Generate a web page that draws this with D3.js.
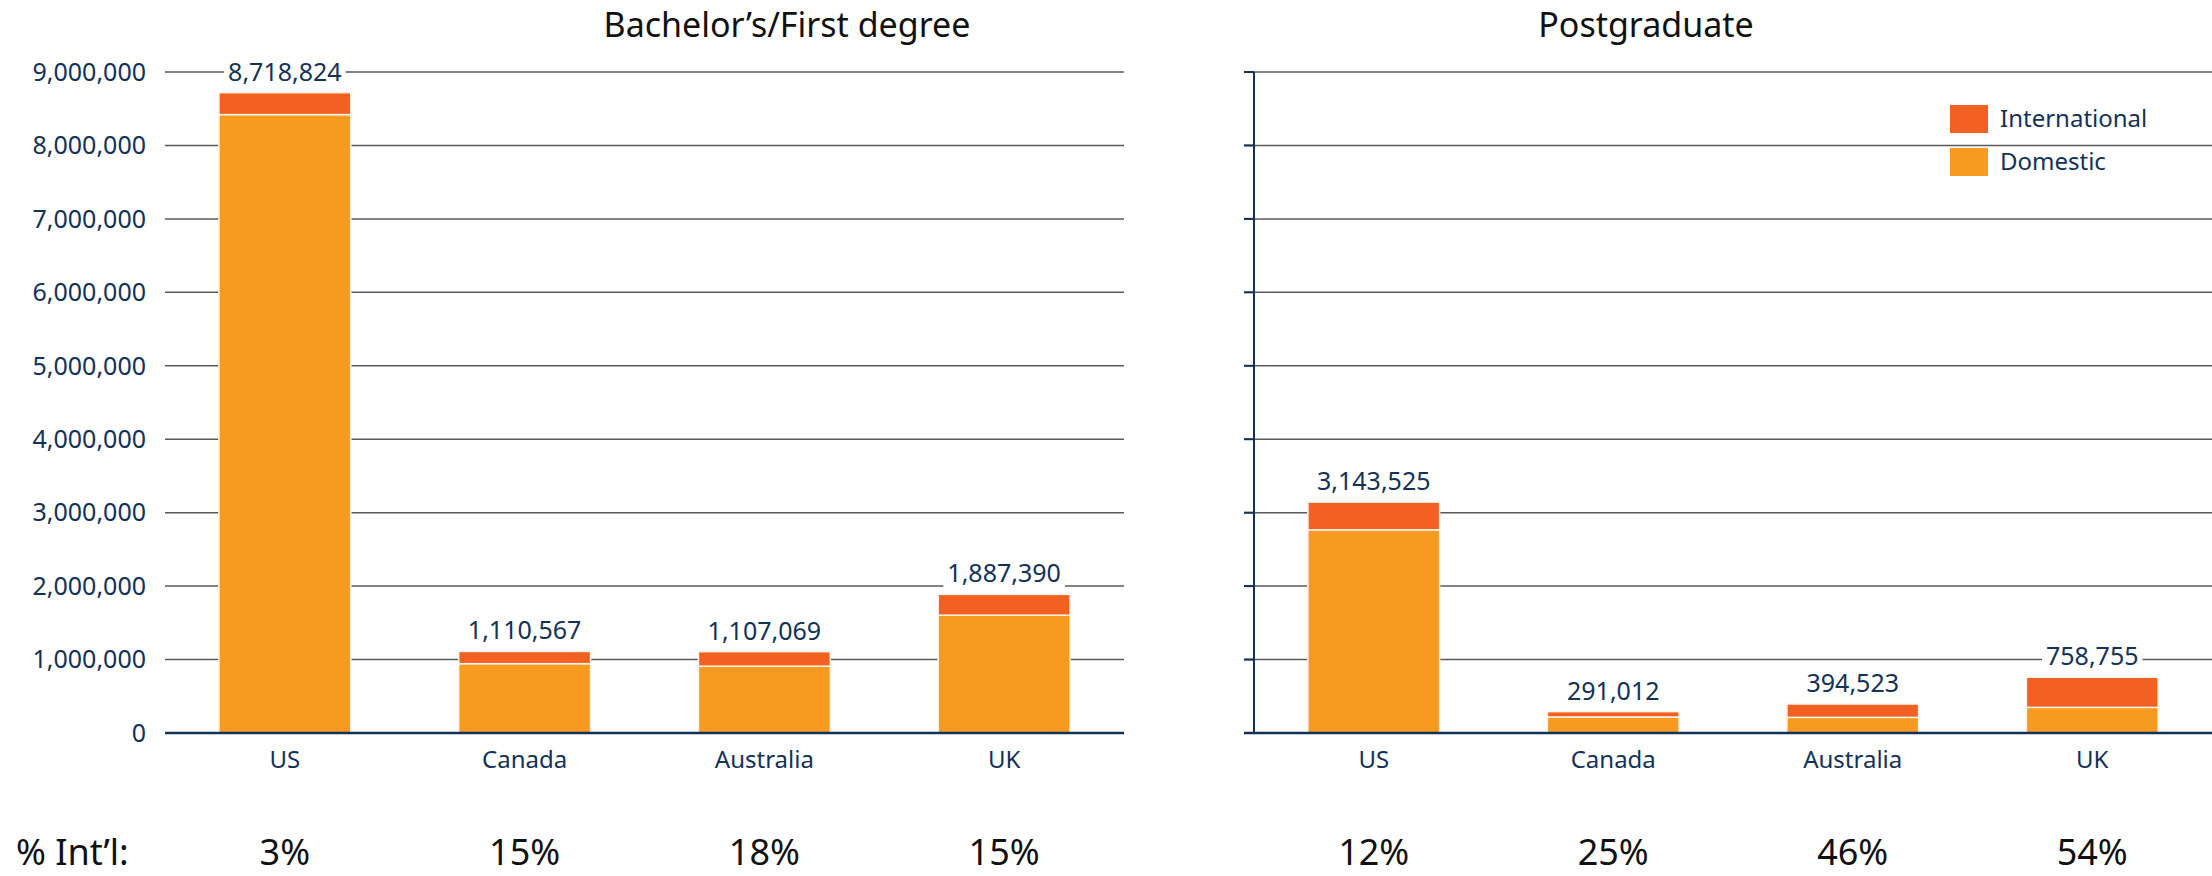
<!DOCTYPE html>
<html>
<head>
<meta charset="utf-8">
<script src="https://cdn.jsdelivr.net/npm/d3@7"></script>
<style>
body{margin:0;background:#fff;}
text{font-family:"Noto Sans",sans-serif;}
</style>
</head>
<body>
<svg id="chart" width="2212" height="876"></svg>
<script>
// data
var countries=['US','Canada','Australia','UK'];
var bachTotal=[8718824,1110567,1107069,1887390];
var bachDomestic=[8420000,944000,910000,1604000];
var pgTotal=[3143525,291012,394523,758755];
var pgDomestic=[2766000,218000,213000,349000];
var bachPct=['3%','15%','18%','15%'];
var pgPct=['12%','25%','46%','54%'];
var yTicks=[0,1000000,2000000,3000000,4000000,5000000,6000000,7000000,8000000,9000000];
var legendItems=['International','Domestic'];

var navy='#12325a';
var cInt='#f26122';
var cDom='#f89a1f';
var grid='#5a5a5a';

var svg=d3.select('#chart');
var y=d3.scaleLinear().domain([0,9000000]).range([733,72]);
var fmt=d3.format(',');

function panel(x0,x1,title,titleX,totals,domestic,pcts,showLabels){
  var g=svg.append('g');
  var x=d3.scaleBand().domain(countries).range([x0,x1]).paddingInner(0.45).paddingOuter(0.225);

  // gridlines
  g.selectAll('.grid').data(yTicks.slice(1)).enter().append('line')
    .attr('x1',showLabels?x0:x0-10).attr('x2',x1)
    .attr('y1',d=>y(d)).attr('y2',d=>y(d))
    .attr('stroke',grid).attr('stroke-width',1.5);

  if(showLabels){
    g.selectAll('.yl').data(yTicks).enter().append('text')
      .attr('x',x0-19).attr('y',d=>y(d)).attr('dy','0.35em')
      .attr('text-anchor','end').attr('fill',navy).attr('font-size',25)
      .text(d=>fmt(d));
  }else{
    g.append('line').attr('x1',x0).attr('x2',x0).attr('y1',y(9000000)).attr('y2',y(0))
      .attr('stroke',navy).attr('stroke-width',2);
    g.selectAll('.tk').data(yTicks).enter().append('line')
      .attr('x1',x0-10).attr('x2',x0).attr('y1',d=>y(d)).attr('y2',d=>y(d))
      .attr('stroke',navy).attr('stroke-width',2);
  }

  var rows=countries.map((c,i)=>({c:c,total:totals[i],dom:domestic[i],pct:pcts[i]}));

  // stacked bars
  g.selectAll('.dom').data(rows).enter().append('rect')
    .attr('x',d=>x(d.c)).attr('width',x.bandwidth())
    .attr('y',d=>y(d.dom)).attr('height',d=>y(0)-y(d.dom))
    .attr('fill',cDom).attr('stroke','#fff3e6').attr('stroke-width',1.5);
  g.selectAll('.int').data(rows).enter().append('rect')
    .attr('x',d=>x(d.c)).attr('width',x.bandwidth())
    .attr('y',d=>y(d.total)).attr('height',d=>y(d.dom)-y(d.total))
    .attr('fill',cInt).attr('stroke','#fff3e6').attr('stroke-width',1.5);

  // x axis line
  g.append('line').attr('x1',showLabels?x0:x0-10).attr('x2',x1)
    .attr('y1',y(0)).attr('y2',y(0)).attr('stroke',navy).attr('stroke-width',2.5);

  // value labels with white box
  var lab=g.selectAll('.val').data(rows).enter().append('g');
  lab.append('rect').attr('class','bg').attr('fill','#fff');
  lab.append('text')
    .attr('x',d=>x(d.c)+x.bandwidth()/2).attr('y',d=>y(d.total)-12)
    .attr('text-anchor','middle').attr('fill',navy).attr('font-size',25)
    .text(d=>fmt(d.total));
  lab.each(function(){
    var t=d3.select(this).select('text').node().getBBox();
    d3.select(this).select('rect').attr('x',t.x-4).attr('width',t.width+8)
      .attr('y',t.y).attr('height',t.height);
  });

  // category labels
  g.selectAll('.cat').data(rows).enter().append('text')
    .attr('x',d=>x(d.c)+x.bandwidth()/2).attr('y',768)
    .attr('text-anchor','middle').attr('fill',navy).attr('font-size',24)
    .text(d=>d.c);

  // % int'l row
  g.selectAll('.pct').data(rows).enter().append('text')
    .attr('x',d=>x(d.c)+x.bandwidth()/2).attr('y',865)
    .attr('text-anchor','middle').attr('fill','#111').attr('font-size',36)
    .text(d=>d.pct);

  svg.append('text').attr('x',titleX).attr('y',37).attr('text-anchor','middle')
    .attr('fill','#111').attr('font-size',34).text(title);
}

panel(165,1124,'Bachelor\u2019s/First degree',787,bachTotal,bachDomestic,bachPct,true);
panel(1254,2212,'Postgraduate',1646,pgTotal,pgDomestic,pgPct,false);

svg.append('text').attr('x',16).attr('y',865).attr('fill','#111').attr('font-size',36)
  .text('% Int\u2019l:');

// legend
var lg=svg.append('g').attr('transform','translate(1950,105)');
var li=lg.selectAll('g').data(legendItems).enter().append('g')
  .attr('transform',(d,i)=>'translate(0,'+(i*43)+')');
li.append('rect').attr('width',38).attr('height',28).attr('fill',(d,i)=>i==0?cInt:cDom);
li.append('text').attr('x',50).attr('y',14).attr('dy','0.35em').attr('fill',navy)
  .attr('font-size',24).text(d=>d);
</script>
</body>
</html>
